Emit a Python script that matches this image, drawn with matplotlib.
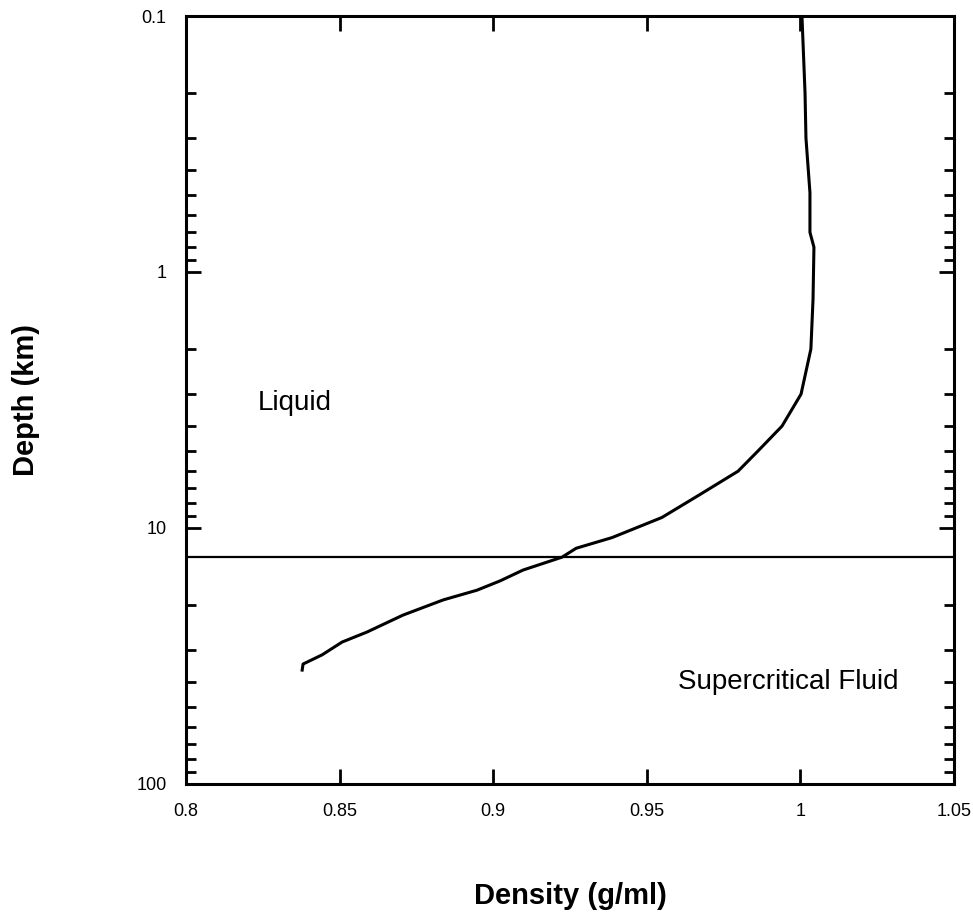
import numpy as np
import matplotlib.pyplot as plt
from matplotlib.ticker import LogLocator, FixedLocator, FuncFormatter, NullFormatter

plt.rcParams['font.family'] = ['Liberation Sans', 'DejaVu Sans']

# density profile
density = [1.0005, 1.0015, 1.0018, 1.0031, 1.0031, 1.0044, 1.0041, 1.0034, 1.0002,
           0.9940, 0.9862, 0.9797, 0.9673, 0.9549, 0.9387, 0.9270, 0.9224, 0.9097,
           0.9022, 0.8947, 0.8837, 0.8706, 0.8589, 0.8508, 0.8443, 0.8381,
           0.8378]
depth = [0.1, 0.2, 0.30, 0.49, 0.70, 0.80, 1.28, 2.0, 3.0,
         4.0, 5.0, 6.0, 7.4, 9.1, 10.9, 12.0, 13.0, 14.6,
         16.1, 17.5, 19.1, 21.9, 25.5, 27.9, 31.3, 34.0,
         35.9]
critical_depth = 13.0

fig = plt.figure(figsize=(9.73, 9.15), dpi=100)
ax = fig.add_axes([0.1912, 0.1432, 0.7893, 0.8393])

ax.plot(density, depth, color='black', lw=2.2, solid_joinstyle='round')
ax.axhline(critical_depth, color='black', lw=1.6)

ax.set_yscale('log')
ax.set_ylim(100, 0.1)
ax.set_xlim(0.8, 1.05)

ax.xaxis.set_major_locator(FixedLocator([0.8, 0.85, 0.9, 0.95, 1.0, 1.05]))
ax.xaxis.set_major_formatter(FuncFormatter(lambda v, p: ('%.2f' % v).rstrip('0').rstrip('.')))
ax.yaxis.set_major_locator(LogLocator(base=10, numticks=10))
ax.yaxis.set_minor_locator(LogLocator(base=10, subs=np.arange(2, 10), numticks=10))
ax.yaxis.set_major_formatter(FuncFormatter(lambda v, p: '%g' % v))
ax.yaxis.set_minor_formatter(NullFormatter())

ax.tick_params(which='both', direction='in', top=True, right=True, width=2, labelsize=13)
ax.tick_params(which='major', length=11, pad=14)
ax.tick_params(which='minor', length=7)
for s in ax.spines.values():
    s.set_linewidth(2.2)

ax.text(0.8234, 3.25, 'Liquid', fontsize=20, va='center', ha='left')
ax.text(0.960, 40, 'Supercritical Fluid', fontsize=20, va='center', ha='left')

fig.text(0.586, 0.021, 'Density (g/ml)', fontsize=21, fontweight='bold', ha='center', va='center')
fig.text(0.027, 0.563, 'Depth (km)', fontsize=21, fontweight='bold', ha='center', va='center',
         rotation=90)

fig.savefig('out.png', dpi=100)
